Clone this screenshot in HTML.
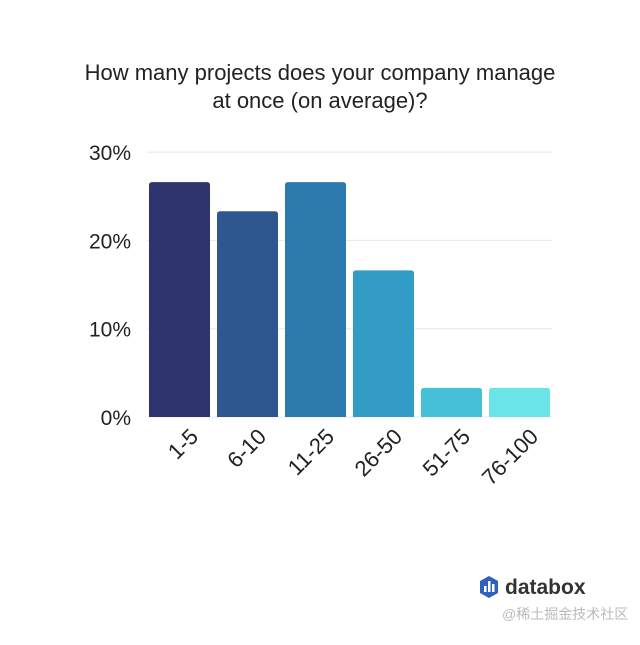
<!DOCTYPE html>
<html><head><meta charset="utf-8"><style>
body{margin:0;background:#fff;width:640px;height:640px;overflow:hidden;font-family:"Liberation Sans",sans-serif}
</style></head><body>
<svg width="640" height="640" xmlns="http://www.w3.org/2000/svg">
<text x="320" y="80" text-anchor="middle" font-size="22" fill="#222">How many projects does your company manage</text>
<text x="320" y="108" text-anchor="middle" font-size="22" fill="#222">at once (on average)?</text>
<g id="grid"></g><g id="bars"></g><g id="labels"></g>
<g>
<polygon points="489,576 498,581 498,593 489,598 480,593 480,581" fill="#2f5fc0"/>
<rect x="484" y="586" width="2.5" height="6" fill="#fff"/><rect x="488" y="581" width="2.5" height="11" fill="#fff"/><rect x="492" y="584" width="2.5" height="8" fill="#fff"/>
<text x="505" y="594" font-size="21" font-weight="bold" fill="#333">databox</text>
</g>
<text x="502" y="619" font-size="14" fill="#bbb" font-family="Liberation Sans, Noto Sans CJK SC, sans-serif">@稀土掘金技术社区</text>
</svg>
<script>
const categories=["1-5","6-10","11-25","26-50","51-75","76-100"];
const values=[26.6,23.3,26.6,16.6,3.3,3.3];
const colors=["#2f336e","#2e568f","#2c79ab","#329cc6","#45c0d8","#6ae4e6"];
const ticks=[0,10,20,30];
const ns="http://www.w3.org/2000/svg";
const x0=147,step=68,bw=61,y0=417,pxPer=8.83;
const y=v=>y0-v*pxPer;
const g=document.getElementById('grid'),b=document.getElementById('bars'),l=document.getElementById('labels');
ticks.forEach(t=>{
 const ln=document.createElementNS(ns,'line');
 
 
 ln.setAttribute('x1',147);ln.setAttribute('x2',552);ln.setAttribute('y1',y(t));ln.setAttribute('y2',y(t));
 ln.setAttribute('stroke','#e8e8ec');g.appendChild(ln);
 const tx=document.createElementNS(ns,'text');
 
 
 tx.setAttribute('x',131);tx.setAttribute('y',y(t)+8);tx.setAttribute('text-anchor','end');
 tx.setAttribute('font-size','21');tx.setAttribute('fill','#222');tx.textContent=t+'%';g.appendChild(tx);
});
categories.forEach((c,i)=>{
 const r=document.createElementNS(ns,'path');
 
 
 const xl=x0+2+i*step,yt=y(values[i]),rr=3;
 r.setAttribute('d',`M${xl},${y0}V${yt+rr}Q${xl},${yt} ${xl+rr},${yt}H${xl+bw-rr}Q${xl+bw},${yt} ${xl+bw},${yt+rr}V${y0}Z`);
 r.setAttribute('fill',colors[i]);b.appendChild(r);
 const tx=document.createElementNS(ns,'text');
 
 
 const cx=xl+bw/2+20,cy=438;
 tx.setAttribute('x',cx);tx.setAttribute('y',cy);tx.setAttribute('text-anchor','end');
 tx.setAttribute('transform',`rotate(-45 ${cx} ${cy})`);
 tx.setAttribute('font-size','22');tx.setAttribute('fill','#222');tx.textContent=c;l.appendChild(tx);
});
</script>
</body></html>
